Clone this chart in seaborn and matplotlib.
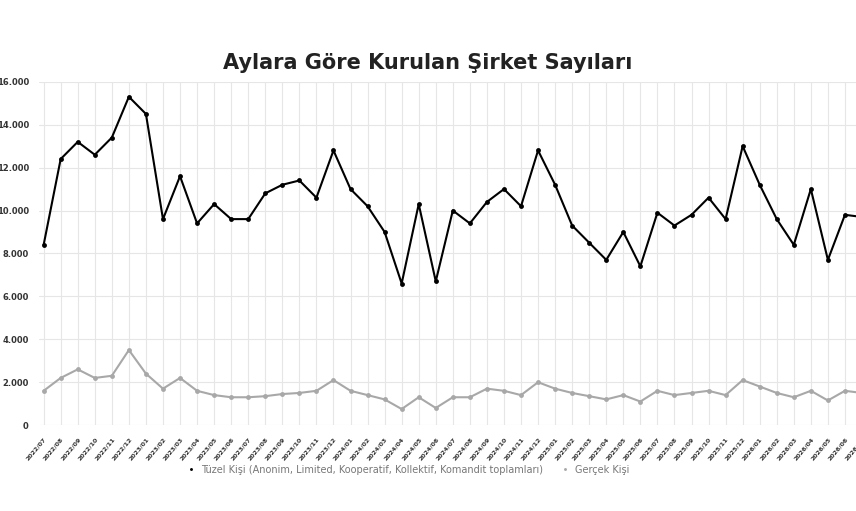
import matplotlib
matplotlib.use("Agg")
import matplotlib.pyplot as plt
import seaborn as sns
import pandas as pd
from matplotlib.ticker import FuncFormatter, MultipleLocator

months = [f"{y}/{m:02d}" for y in range(2022, 2027) for m in range(1, 13)]
months = months[months.index("2022/07"):months.index("2026/07") + 1]
tuzel = [8400, 12400, 13200, 12600, 13400, 15300, 14500, 9600, 11600, 9400, 10300, 9600, 9600,
         10800, 11200, 11400, 10600, 12800, 11000, 10200, 9000, 6600, 10300, 6700, 10000, 9400,
         10400, 11000, 10200, 12800, 11200, 9300, 8500, 7700, 9000, 7400, 9900, 9300, 9800,
         10600, 9600, 13000, 11200, 9600, 8400, 11000, 7700, 9800, 9700]
gercek = [1600, 2200, 2600, 2200, 2300, 3500, 2400, 1700, 2200, 1600, 1400, 1300, 1300, 1350,
          1450, 1500, 1600, 2100, 1600, 1400, 1200, 750, 1300, 800, 1300, 1300, 1700, 1600,
          1400, 2000, 1700, 1500, 1350, 1200, 1400, 1100, 1600, 1400, 1500, 1600, 1400, 2100,
          1800, 1500, 1300, 1600, 1150, 1600, 1500]
df = pd.DataFrame({"ay": months, "t": tuzel, "g": gercek, "x": range(len(months))})

sns.set_theme(style="white")
fig = plt.figure(figsize=(8.56, 5.11), dpi=100)
ax = fig.add_axes([0.045, 0.168, 0.962, 0.672])
ax.grid(True, color="#e6e6e6", linewidth=0.8)
sns.lineplot(data=df, x="x", y="t", ax=ax, color="black", linewidth=1.5, marker="o",
             markersize=3.5, markeredgewidth=0, label="Tüzel Kişi (Anonim, Limited, Kooperatif, Kollektif, Komandit toplamları)")
sns.lineplot(data=df, x="x", y="g", ax=ax, color="#a8a8a8", linewidth=1.5, marker="o",
             markersize=3.5, markeredgewidth=0, label="Gerçek Kişi")
ax.set_xlim(-0.3, len(months) - 1.2)
ax.set_ylim(0, 16000)
ax.yaxis.set_major_locator(MultipleLocator(2000))
ax.yaxis.set_major_formatter(FuncFormatter(lambda v, p: f"{int(v):,}".replace(",", ".")))
ax.set_xticks(df["x"])
ax.set_xticklabels(months, rotation=50, ha="right", rotation_mode="anchor", fontsize=4.5,
                   fontweight="bold", color="#333")
ax.tick_params(axis="y", labelsize=6, colors="#333", pad=1)
ax.tick_params(axis="x", pad=2)
for lbl in ax.get_yticklabels():
    lbl.set_fontweight("bold")
ax.set_xlabel(""); ax.set_ylabel("")
for s in ax.spines.values():
    s.set_visible(False)
ax.legend(loc="upper center", bbox_to_anchor=(0.45, -0.09), ncol=2, frameon=False,
          fontsize=7, labelcolor="#777", handlelength=0.5, markerscale=0.6)
for h in ax.get_legend().get_lines():
    h.set_linestyle("none")
fig.text(0.5, 0.865, "Aylara Göre Kurulan Şirket Sayıları", ha="center", fontsize=15,
         fontweight="bold", color="#222")
fig.savefig("out.png", dpi=100)
